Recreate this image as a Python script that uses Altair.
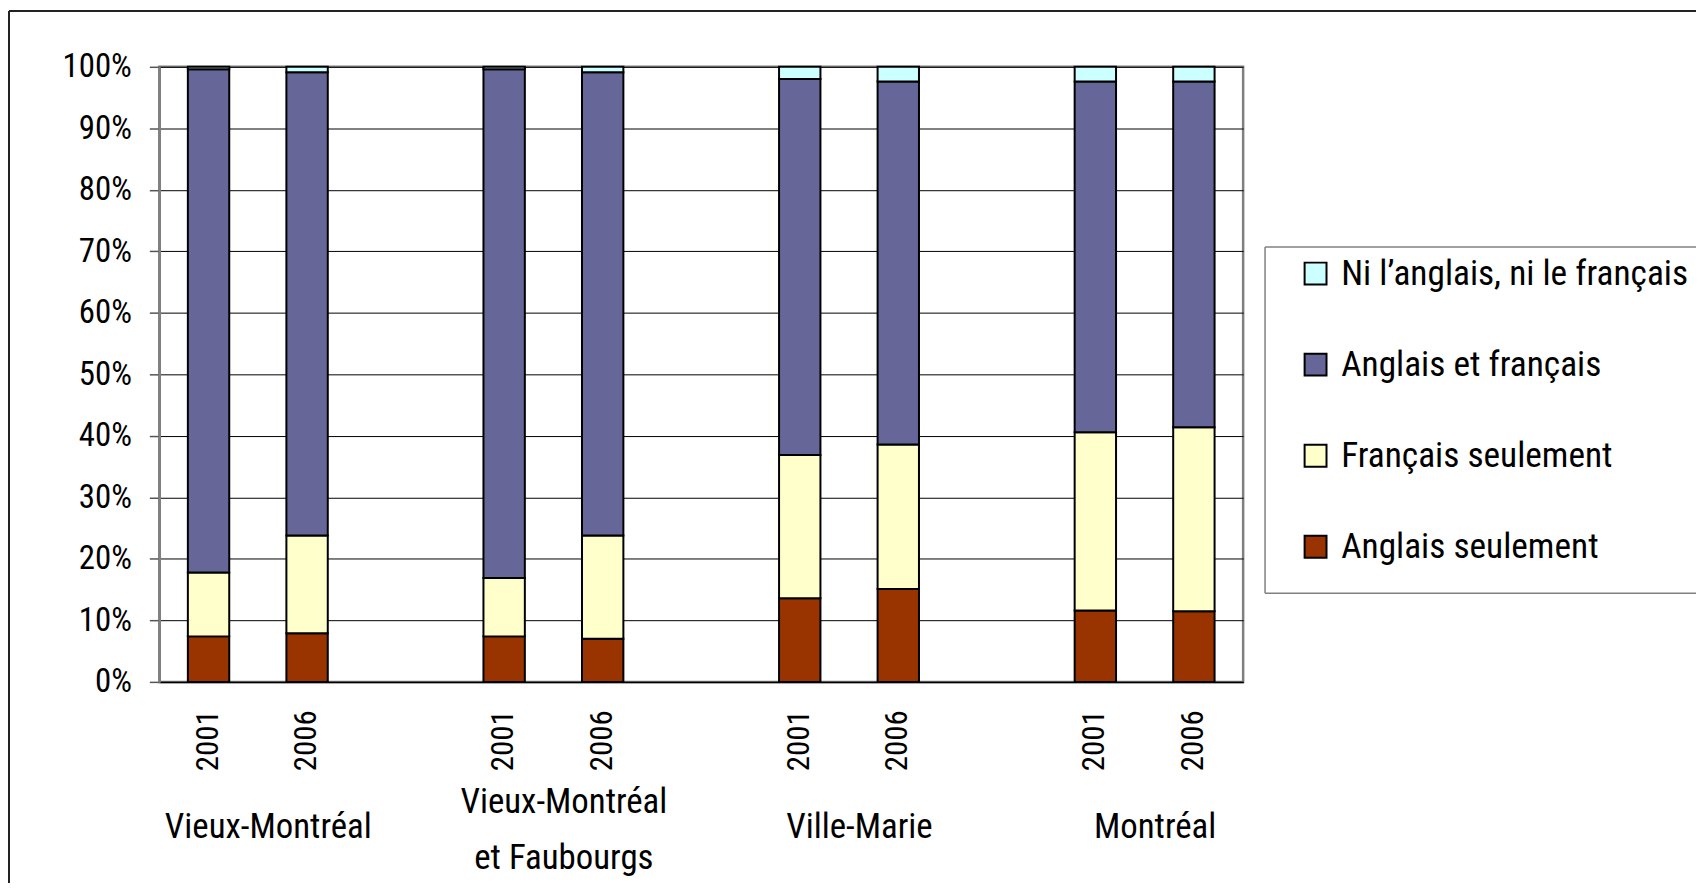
import altair as alt
import pandas as pd

# ---- data ----
groups = ["Vieux-Montréal", "Vieux-Montréal\net Faubourgs", "Ville-Marie", "Montréal"]
years = ["2001", "2006"]
categories = ["Anglais seulement", "Français seulement", "Anglais et français",
              "Ni l’anglais, ni le français"]
anglais_seulement = [7.4, 7.9, 7.4, 7.0, 13.6, 15.1, 11.6, 11.5]
francais_seulement = [10.4, 15.9, 9.5, 16.8, 23.3, 23.5, 29.0, 29.9]
anglais_et_francais = [81.8, 75.3, 82.7, 75.3, 61.1, 59.0, 57.0, 56.2]
ni_anglais_ni_francais = [0.4, 0.9, 0.4, 0.9, 2.0, 2.4, 2.4, 2.4]
colors = ["#993300", "#FFFFCC", "#666699", "#CCFFFF"]

series = [anglais_seulement, francais_seulement, anglais_et_francais, ni_anglais_ni_francais]

FONT = "Liberation Sans Narrow, Arial Narrow, Roboto Condensed, sans-serif"

slots = []
rows = []
i = 0
for gi, g in enumerate(groups):
    for y in years:
        key = f"{gi}|{y}"
        slots.append(key)
        for ci, c in enumerate(categories):
            rows.append({"slot": key, "cat": c, "order": ci, "value": series[ci][i]})
        i += 1
    if gi < len(groups) - 1:
        slots.append(f"{gi}|gap")
df = pd.DataFrame(rows)

group_df = pd.DataFrame({"slot": [f"{gi}|{years[0]}" for gi in range(len(groups))],
                         "label": groups})

xscale = alt.Scale(domain=slots, paddingInner=0.58, paddingOuter=0.29)
x_axis = alt.Axis(labelExpr="indexof(datum.value,'gap') >= 0 ? '' : split(datum.value,'|')[1]",
                  labelAngle=270, labelAlign="right", labelBaseline="middle",
                  labelFont=FONT, labelFontSize=31, labelColor="black",
                  labelPadding=28, ticks=False, domainColor="black",
                  domainWidth=1.5, grid=False, title=None)
legend_order = list(reversed(categories))
legend_colors = list(reversed(colors))

bars = alt.Chart(df).mark_bar(stroke="black", strokeWidth=2).encode(
    x=alt.X("slot:N", scale=xscale, sort=slots, title=None, axis=x_axis),
    y=alt.Y("value:Q", stack="normalize", title=None,
            scale=alt.Scale(domain=[0, 1], nice=False),
            axis=alt.Axis(format="%", values=[k / 10 for k in range(11)],
                          labelFont=FONT, labelFontSize=33, labelColor="black",
                          labelPadding=18, tickSize=10, tickColor="#555555",
                          tickWidth=1.5, domainColor="#808080", domainWidth=2.5,
                          gridColor="black", gridWidth=1)),
    color=alt.Color("cat:N",
                    scale=alt.Scale(domain=legend_order, range=legend_colors),
                    legend=alt.Legend(orient="none", legendX=1144, legendY=190, title=None,
                                      labelFont=FONT, labelFontSize=35.5, labelColor="black",
                                      symbolType="square", symbolSize=484,
                                      symbolStrokeColor="black", symbolStrokeWidth=2,
                                      rowPadding=54.5, labelOffset=8, padding=0,
                                      labelLimit=600)),
    order=alt.Order("order:Q", sort="ascending"),
)

group_text = alt.Chart(group_df).transform_calculate(
    nlines="length(split(datum.label, '\\n'))",
    ypos="764 - (datum.nlines - 1) * 25",
).mark_text(
    font=FONT, fontSize=35, lineBreak="\n", lineHeight=56, dx=60,
    baseline="middle", align="center", color="black"
).encode(
    x=alt.X("slot:N", scale=xscale, sort=slots, title=None, axis=x_axis),
    y=alt.Y("ypos:Q", scale=None, axis=None),
    text="label:N",
)

one = alt.Data(values=[{}])
frame_top = alt.Chart(one).mark_rule(color="#222222", strokeWidth=2).encode(
    x=alt.value(-151), x2=alt.value(1544), y=alt.value(-56))
frame_left = alt.Chart(one).mark_rule(color="#222222", strokeWidth=2).encode(
    x=alt.value(-151), y=alt.value(-56), y2=alt.value(820))
leg_top = alt.Chart(one).mark_rule(color="#808080", strokeWidth=1.5).encode(
    x=alt.value(1111), x2=alt.value(1544), y=alt.value(181))
leg_bottom = alt.Chart(one).mark_rule(color="#808080", strokeWidth=1.5).encode(
    x=alt.value(1111), x2=alt.value(1544), y=alt.value(529))
leg_left = alt.Chart(one).mark_rule(color="#808080", strokeWidth=1.5).encode(
    x=alt.value(1111), y=alt.value(181), y2=alt.value(529))

chart = alt.layer(frame_top, frame_left, leg_top, leg_bottom, leg_left, bars, group_text).properties(
    width=1089, height=618, padding=0, background="white"
).configure_view(stroke="#808080", strokeWidth=2.5)

chart.save("out.html", embed_options={"renderer": "svg", "actions": False})
